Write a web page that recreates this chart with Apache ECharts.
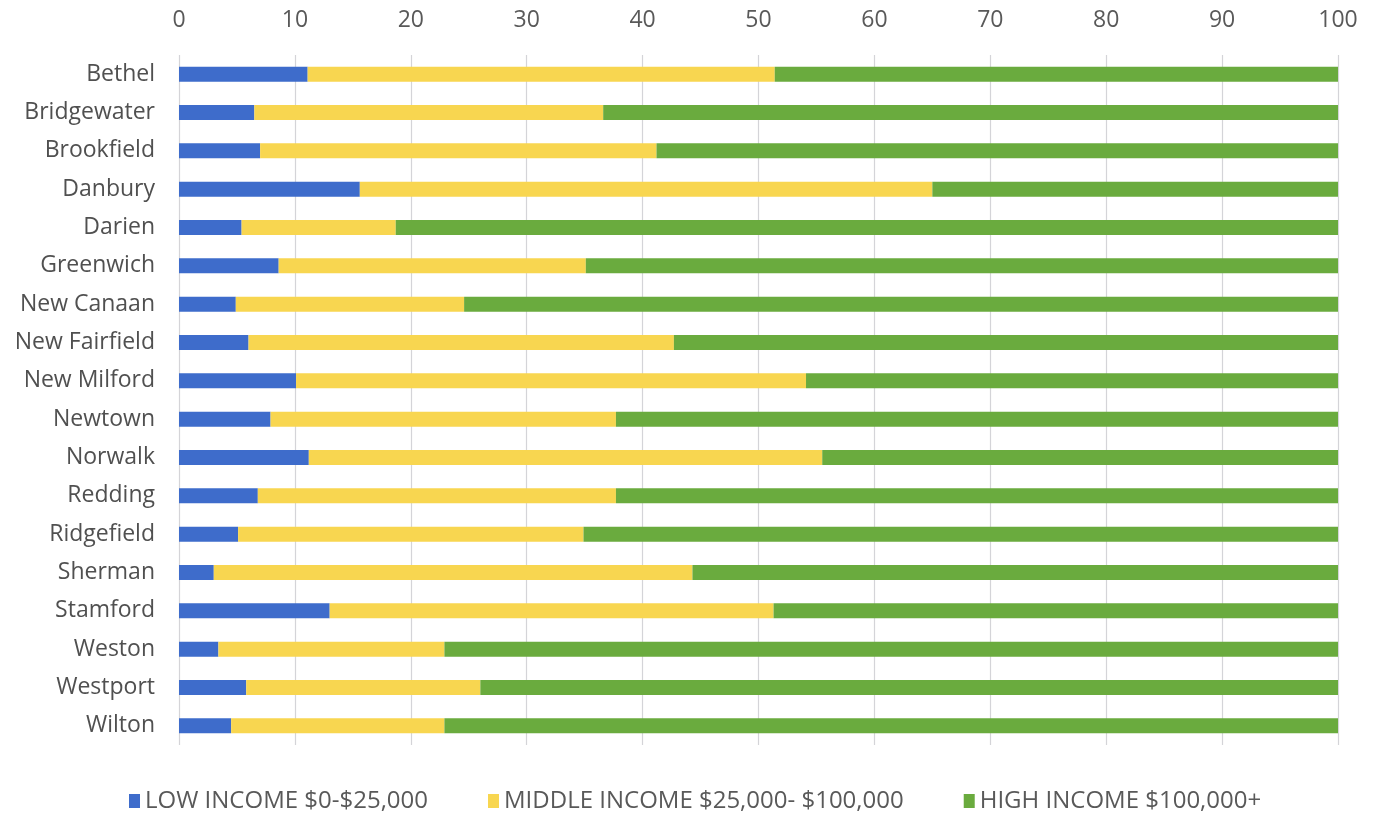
<!DOCTYPE html>
<html>
<head>
<meta charset="utf-8">
<script src="https://cdn.jsdelivr.net/npm/echarts@6/dist/echarts.min.js"></script>
<style>
  html, body { margin: 0; padding: 0; background: #ffffff; }
  #chart { width: 1376px; height: 818px; }
</style>
</head>
<body>
<div id="chart"></div>
<script>
// Household income mix by town (percent of households)
const towns = [
  'Bethel', 'Bridgewater', 'Brookfield', 'Danbury', 'Darien', 'Greenwich',
  'New Canaan', 'New Fairfield', 'New Milford', 'Newtown', 'Norwalk', 'Redding',
  'Ridgefield', 'Sherman', 'Stamford', 'Weston', 'Westport', 'Wilton'
];
const lowIncome = [11.1, 6.5, 7.0, 15.6, 5.4, 8.6, 4.9, 6.0, 10.1, 7.9, 11.2, 6.8, 5.1, 3.0, 13.0, 3.4, 5.8, 4.5];
const middleIncome = [40.3, 30.1, 34.2, 49.4, 13.3, 26.5, 19.7, 36.7, 44.0, 29.8, 44.3, 30.9, 29.8, 41.3, 38.3, 19.5, 20.2, 18.4];
const highIncome = [48.6, 63.4, 58.8, 35.0, 81.3, 64.9, 75.4, 57.3, 45.9, 62.3, 44.5, 62.3, 65.1, 55.7, 48.7, 77.1, 74.0, 77.1];
const seriesNames = ['LOW INCOME $0-$25,000', 'MIDDLE INCOME $25,000- $100,000', 'HIGH INCOME $100,000+'];
const axisTicks = { min: 0, max: 100, interval: 10 };

const colors = ['#3e6ccb', '#f8d650', '#6aab3e'];
const font = '"Open Sans", "Noto Sans", sans-serif';

const chart = echarts.init(document.getElementById('chart'));
const makeSeries = (name, data, color) => ({
  name: name,
  type: 'bar',
  stack: 'income',
  data: data,
  barWidth: 15,
  itemStyle: { color: color },
  emphasis: { disabled: true }
});

chart.setOption({
  animation: false,
  color: colors,
  grid: { left: 179, right: 38, top: 55, height: 690 },
  legend: {
    bottom: 0,
    left: 124,
    itemWidth: 11,
    itemHeight: 14,
    itemGap: 60,
    icon: 'rect',
    textStyle: { fontFamily: font, fontSize: 24, color: '#595959' },
    data: seriesNames
  },
  xAxis: {
    type: 'value',
    position: 'top',
    min: axisTicks.min,
    max: axisTicks.max,
    interval: axisTicks.interval,
    axisLine: { show: false },
    axisTick: { show: false },
    axisLabel: { fontFamily: font, fontSize: 23, color: '#595959', margin: 23 },
    splitLine: { lineStyle: { color: '#d4d4d8', width: 1.2 } }
  },
  yAxis: {
    type: 'category',
    inverse: true,
    data: towns,
    axisLine: { show: false },
    axisTick: { show: false },
    axisLabel: { fontFamily: font, fontSize: 23, color: '#505050', margin: 24 }
  },
  series: [
    makeSeries(seriesNames[0], lowIncome, colors[0]),
    makeSeries(seriesNames[1], middleIncome, colors[1]),
    makeSeries(seriesNames[2], highIncome, colors[2])
  ]
});
</script>
</body>
</html>
